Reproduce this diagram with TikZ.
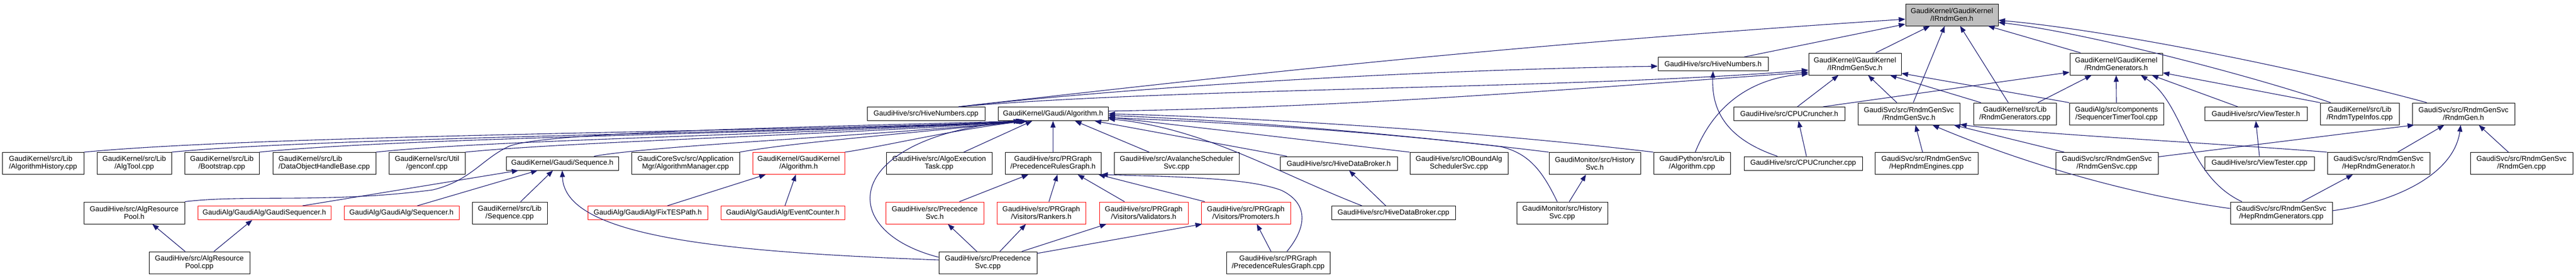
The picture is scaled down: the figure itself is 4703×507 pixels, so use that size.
\documentclass[tikz,border=0pt]{standalone}
\usepackage{fontspec}
\setmainfont{Liberation Sans}
\usetikzlibrary{arrows.meta,calc}
\definecolor{edgeblue}{HTML}{191970}
\definecolor{rootgray}{HTML}{BFBFBF}
\begin{document}
\begin{tikzpicture}[x=1pt,y=-1pt,
  box/.style={draw=black, fill=white, line width=1pt, inner sep=0pt, align=center,
    font=\fontsize{13.2}{14}\selectfont, minimum height=40pt},
  sbox/.style={box, minimum height=25pt},
  redb/.style={draw=red},
  conn/.style={draw=edgeblue, line width=1.1pt, -{Triangle[length=12pt,width=9pt]}},
]
\fill[white] (0,0) rectangle (4703,507);
\useasboundingbox (0,0) rectangle (4703,507);

% row 1-3
\node[box,fill=rootgray,minimum width=169] (irg) at (3563.5,27) {GaudiKernel/GaudiKernel\\/IRndmGen.h};
\node[sbox,minimum width=201] (hnh) at (3127.5,117) {GaudiHive/src/HiveNumbers.h};
\node[box,minimum width=169] (irgs) at (3386.5,117) {GaudiKernel/GaudiKernel\\/IRndmGenSvc.h};
\node[box,minimum width=169] (rgh) at (3863.5,117) {GaudiKernel/GaudiKernel\\/RndmGenerators.h};
\node[sbox,minimum width=215] (hnc) at (1690.5,208) {GaudiHive/src/HiveNumbers.cpp};
\node[sbox,minimum width=201] (galg) at (1922.5,208) {GaudiKernel/Gaudi/Algorithm.h};
\node[sbox,minimum width=203] (cpuh) at (3266.5,208) {GaudiHive/src/CPUCruncher.h};
\node[box,minimum width=186] (rgsh) at (3485,208) {GaudiSvc/src/RndmGenSvc\\/RndmGenSvc.h};
\node[box,minimum width=151] (rgcpp) at (3678.5,208) {GaudiKernel/src/Lib\\/RndmGenerators.cpp};
\node[box,minimum width=172] (stt) at (3864,208) {GaudiAlg/src/components\\/SequencerTimerTool.cpp};
\node[sbox,minimum width=187] (vth) at (4118.5,208) {GaudiHive/src/ViewTester.h};
\node[box,minimum width=144] (rti) at (4308,208) {GaudiKernel/src/Lib\\/RndmTypeInfos.cpp};
\node[box,minimum width=187] (rgenh) at (4497.5,208) {GaudiSvc/src/RndmGenSvc\\/RndmGen.h};

% row 4
\node[box,minimum width=149,align=left] (ahist) at (78.5,298.5) {GaudiKernel/src/Lib\\/AlgorithmHistory.cpp};
\node[box,minimum width=136] (algtool) at (245,298.5) {GaudiKernel/src/Lib\\/AlgTool.cpp};
\node[box,minimum width=136] (boot) at (405,298.5) {GaudiKernel/src/Lib\\/Bootstrap.cpp};
\node[box,minimum width=188,align=left] (dohb) at (592,298.5) {GaudiKernel/src/Lib\\/DataObjectHandleBase.cpp};
\node[box,minimum width=139] (genconf) at (779.5,298.5) {GaudiKernel/src/Util\\/genconf.cpp};
\node[sbox,minimum width=205] (seqh) at (1026.5,298.5) {GaudiKernel/Gaudi/Sequence.h};
\node[box,minimum width=197] (algmgr) at (1251.5,298.5) {GaudiCoreSvc/src/Application\\Mgr/AlgorithmManager.cpp};
\node[box,redb,minimum width=168] (kalg) at (1458,298.5) {GaudiKernel/GaudiKernel\\/Algorithm.h};
\node[box,minimum width=193] (aet) at (1714.5,298.5) {GaudiHive/src/AlgoExecution\\Task.cpp};
\node[box,minimum width=175] (prgh) at (1922.5,298.5) {GaudiHive/src/PRGraph\\/PrecedenceRulesGraph.h};
\node[box,minimum width=228] (aval) at (2148,298.5) {GaudiHive/src/AvalancheScheduler\\Svc.cpp};
\node[sbox,minimum width=214] (hdbh) at (2444,298.5) {GaudiHive/src/HiveDataBroker.h};
\node[box,minimum width=179] (iob) at (2663.5,298.5) {GaudiHive/src/IOBoundAlg\\SchedulerSvc.cpp};
\node[box,minimum width=167] (hsh) at (2911.5,298.5) {GaudiMonitor/src/History\\Svc.h};
\node[box,minimum width=140] (gpy) at (3089,298.5) {GaudiPython/src/Lib\\/Algorithm.cpp};
\node[sbox,minimum width=216] (cpuc) at (3292,298.5) {GaudiHive/src/CPUCruncher.cpp};
\node[box,minimum width=188] (hre) at (3517,298.5) {GaudiSvc/src/RndmGenSvc\\/HepRndmEngines.cpp};
\node[box,minimum width=187] (rgscpp) at (3846.5,298.5) {GaudiSvc/src/RndmGenSvc\\/RndmGenSvc.cpp};
\node[sbox,minimum width=200] (vtc) at (4125,298.5) {GaudiHive/src/ViewTester.cpp};
\node[box,minimum width=187] (hrgh) at (4342.5,298.5) {GaudiSvc/src/RndmGenSvc\\/HepRndmGenerator.h};
\node[box,minimum width=187] (rgencpp) at (4603.5,298.5) {GaudiSvc/src/RndmGenSvc\\/RndmGen.cpp};

% row 5
\node[box,minimum width=184] (arph) at (245,389) {GaudiHive/src/AlgResource\\Pool.h};
\node[sbox,redb,minimum width=243] (gseq) at (482.5,389) {GaudiAlg/GaudiAlg/GaudiSequencer.h};
\node[sbox,redb,minimum width=210] (seqr) at (733,389) {GaudiAlg/GaudiAlg/Sequencer.h};
\node[box,minimum width=137] (seqcpp) at (930.5,389) {GaudiKernel/src/Lib\\/Sequence.cpp};
\node[sbox,redb,minimum width=219] (fix) at (1182.5,389) {GaudiAlg/GaudiAlg/FixTESPath.h};
\node[sbox,redb,minimum width=226] (evc) at (1429,389) {GaudiAlg/GaudiAlg/EventCounter.h};
\node[box,redb,minimum width=179] (psh) at (1706.5,389) {GaudiHive/src/Precedence\\Svc.h};
\node[box,redb,minimum width=162] (rank) at (1901,389) {GaudiHive/src/PRGraph\\/Visitors/Rankers.h};
\node[box,redb,minimum width=162] (valid) at (2088,389) {GaudiHive/src/PRGraph\\/Visitors/Validators.h};
\node[box,redb,minimum width=163] (prom) at (2274.5,389) {GaudiHive/src/PRGraph\\/Visitors/Promoters.h};
\node[sbox,minimum width=226] (hdbc) at (2544,389) {GaudiHive/src/HiveDataBroker.cpp};
\node[box,minimum width=166] (hsc) at (2852,389) {GaudiMonitor/src/History\\Svc.cpp};
\node[box,minimum width=186] (hrgc) at (4165,389) {GaudiSvc/src/RndmGenSvc\\/HepRndmGenerators.cpp};

% row 6
\node[box,minimum width=184] (arpc) at (364,480) {GaudiHive/src/AlgResource\\Pool.cpp};
\node[box,minimum width=179] (pscpp) at (1803.5,480) {GaudiHive/src/Precedence\\Svc.cpp};
\node[box,minimum width=189] (prgc) at (2333.5,480) {GaudiHive/src/PRGraph\\/PrecedenceRulesGraph.cpp};

% edges to IRndmGen.h and friends
\draw[conn] ($(hnc.north)+(60,0)$) .. controls (2350,127) and (2779,81) .. ($(irg.west)+(0,8)$);
\draw[conn] ($(hnc.north)+(60,0)$) .. controls (2100,156) and (2600,128) .. ($(hnh.west)+(0,4)$);
\draw[conn] ($(hnc.north)+(60,0)$) .. controls (2150,160) and (2900,162) .. ($(irgs.west)+(0,11)$);
\draw[conn] ($(galg.east)+(0,-5)$) .. controls (2500,195) and (2900,160) .. ($(irgs.west)+(0,15)$);
\draw[conn] ($(hnh.north)+(57,0)$) -- ($(irg.west)+(0,17)$);
\draw[conn] ($(irgs.north)+(38,0)$) -- ($(irg.south)+(-40,0)$);
\draw[conn] ($(rgsh.north)+(8,0)$) -- ($(irg.south)+(-13,0)$);
\draw[conn] ($(rgcpp.north)+(-12,0)$) -- ($(irg.south)+(15,0)$);
\draw[conn] ($(rgh.north)+(-65,0)$) -- ($(irg.south)+(66,0)$);
\draw[conn] ($(rgenh.north)+(-67,0)$) .. controls (4200,125) and (3850,55) .. ($(irg.east)+(0,10)$);
\draw[conn] ($(rti.north)+(-53,0)$) .. controls (4100,135) and (3800,58) .. ($(irg.east)+(0,14)$);
\draw[conn] ($(cpuc.north)+(-47,0)$) .. controls (3140,250) and (3125,190) .. (hnh.south);
\draw[conn] ($(gpy.north)+(6,0)$) .. controls (3130,190) and (3200,142) .. ($(irgs.west)+(0,18)$);
\draw[conn] ($(cpuh.north)+(15,0)$) -- ($(irgs.south)+(-30,0)$);
\draw[conn] ($(rgsh.north)+(-22,0)$) -- ($(irgs.south)+(24,0)$);
\draw[conn] ($(rgcpp.north)+(-62,0)$) -- ($(irgs.south)+(64,0)$);
\draw[conn] (stt.north west) -- ($(irgs.east)+(0,17)$);
\draw[conn] ($(cpuh.north)+(62,0)$) -- ($(rgh.west)+(0,15)$);
\draw[conn] ($(rgcpp.north)+(42,0)$) -- ($(rgh.south)+(-45,0)$);
\draw[conn] (stt.north) -- (rgh.south);
\draw[conn] ($(vth.north)+(-33,0)$) -- ($(rgh.south)+(65,0)$);
\draw[conn] (rti.north west) -- ($(rgh.east)+(0,16)$);
\draw[conn] ($(hrgc.north)+(-72,0)$) .. controls (3990,320) and (3990,190) .. ($(rgh.south)+(45,0)$);
\draw[conn] ($(hre.north)+(-7,0)$) -- ($(rgsh.south)+(12,0)$);
\draw[conn] ($(rgscpp.north)+(-78,0)$) -- ($(rgsh.south)+(82,0)$);
\draw[conn] (hrgh.north west) .. controls (4050,262) and (3700,244) .. ($(rgsh.south east)+(0,-1)$);
\draw[conn] ($(hrgc.west)+(0,-8)$) .. controls (3850,350) and (3650,280) .. ($(rgsh.south)+(43,0)$);
\draw[conn] (vtc.north) -- (vth.south);
\draw[conn] ($(hrgc.north)+(38,0)$) -- ($(hrgh.south)+(-47,0)$);
\draw[conn] ($(rgscpp.east)+(0,-12)$) -- ($(rgenh.south west)+(4,0)$);
\draw[conn] ($(hrgh.north)+(35,0)$) -- ($(rgenh.south)+(-35,0)$);
\draw[conn] ($(hrgc.east)+(0,-4)$) .. controls (4370,370) and (4480,320) .. ($(rgenh.south)+(-5,0)$);
\draw[conn] ($(rgencpp.north)+(-24,0)$) -- ($(rgenh.south)+(28,0)$);

% edges to Gaudi/Algorithm.h
\draw[conn] (ahist.north east) .. controls (500,245) and (1500,240) .. ($(galg.south)+(-55,0)$);
\draw[conn] (algtool.north east) .. controls (600,250) and (1500,242) .. ($(galg.south)+(-54,0)$);
\draw[conn] (boot.north east) .. controls (750,250) and (1500,243) .. ($(galg.south)+(-53,0)$);
\draw[conn] (dohb.north east) .. controls (900,255) and (1500,245) .. ($(galg.south)+(-52,0)$);
\draw[conn] (genconf.north east) .. controls (1050,258) and (1550,246) .. ($(galg.south)+(-51,0)$);
\draw[conn] ($(seqh.north)+(58,0)$) .. controls (1200,265) and (1600,248) .. ($(galg.south)+(-50,0)$);
\draw[conn] (algmgr.north east) .. controls (1450,260) and (1650,245) .. ($(galg.south)+(-49,0)$);
\draw[conn] (kalg.north east) .. controls (1600,270) and (1750,235) .. ($(galg.south)+(-47,0)$);
\draw[conn] (arph.north east) .. controls (450,355) and (600,372) .. (790,347)
   .. controls (860,330) and (880,290) .. (930,267)
   .. controls (1000,240) and (1500,232) .. ($(galg.south)+(-56,0)$);
\draw[conn] ($(pscpp.west)+(0,-10)$) .. controls (1520,420) and (1540,250) .. ($(galg.south)+(-60,0)$);
\draw[conn] ($(aet.north)+(45,0)$) -- ($(galg.south)+(-38,0)$);
\draw[conn] (prgh.north) -- (galg.south);
\draw[conn] ($(aval.north)+(-50,0)$) -- ($(galg.south)+(40,0)$);
\draw[conn] ($(hdbh.north west)+(13,0)$) -- ($(galg.south east)+(-25,0)$);
\draw[conn] ($(hdbc.north west)+(56,0)$) .. controls (2330,315) and (2200,235) .. ($(galg.east)+(0,9)$);
\draw[conn] (iob.north west) -- ($(galg.east)+(0,6)$);
\draw[conn] (hsh.north west) .. controls (2600,250) and (2300,222) .. ($(galg.east)+(0,3)$);
\draw[conn] ($(hsc.north)+(-9,0)$) .. controls (2815,310) and (2790,280) .. (2740,268)
   .. controls (2500,240) and (2250,224) .. ($(galg.east)+(0,7)$);
\draw[conn] (gpy.north west) .. controls (2700,240) and (2300,215) .. (galg.east);

% lower edges
\draw[conn] ($(gseq.north)+(70,0)$) -- ($(seqh.south)+(-80,0)$);
\draw[conn] ($(seqr.north)+(29,0)$) -- ($(seqh.south)+(-45,0)$);
\draw[conn] ($(seqcpp.north)+(20,0)$) -- ($(seqh.south)+(-17,0)$);
\draw[conn] ($(pscpp.west)+(0,-5)$) .. controls (1300,460) and (1030,430) .. (seqh.south);
\draw[conn] ($(fix.north)+(36,0)$) -- ($(kalg.south)+(-60,0)$);
\draw[conn] ($(evc.north)+(4,0)$) -- ($(kalg.south)+(-5,0)$);
\draw[conn] ($(psh.north)+(45,0)$) -- ($(prgh.south)+(-45,0)$);
\draw[conn] ($(rank.north)+(14,0)$) -- ($(prgh.south)+(8,0)$);
\draw[conn] ($(valid.north)+(-35,0)$) -- ($(prgh.south)+(45,0)$);
\draw[conn] ($(prom.north west)+(7,0)$) -- ($(prgh.south east)+(-5,0)$);
\draw[conn] ($(prgc.north)+(16,0)$) .. controls (2390,410) and (2385,370) .. (2340,348)
   .. controls (2280,325) and (2150,323) .. (prgh.south east);
\draw[conn] ($(pscpp.north)+(-20,0)$) -- ($(psh.south)+(24,0)$);
\draw[conn] ($(pscpp.north)+(22,0)$) -- ($(rank.south)+(-28,0)$);
\draw[conn] ($(pscpp.north east)+(-28,0)$) -- ($(valid.south)+(-68,0)$);
\draw[conn] ($(pscpp.east)+(0,-17)$) -- ($(prom.south west)+(2,0)$);
\draw[conn] ($(prgc.north)+(-13,0)$) -- ($(prom.south)+(20,0)$);
\draw[conn] ($(hdbc.north)+(-14,0)$) -- ($(hdbh.south)+(19,0)$);
\draw[conn] ($(hsc.north)+(13,0)$) -- ($(hsh.south)+(-16,0)$);
\draw[conn] ($(cpuc.north)+(6,0)$) -- ($(cpuh.south)+(17,0)$);
\draw[conn] ($(arpc.north)+(-26,0)$) -- ($(arph.south)+(33,0)$);
\draw[conn] ($(arpc.north east)+(-66,0)$) -- ($(gseq.south)+(-22,0)$);
\end{tikzpicture}
\end{document}
